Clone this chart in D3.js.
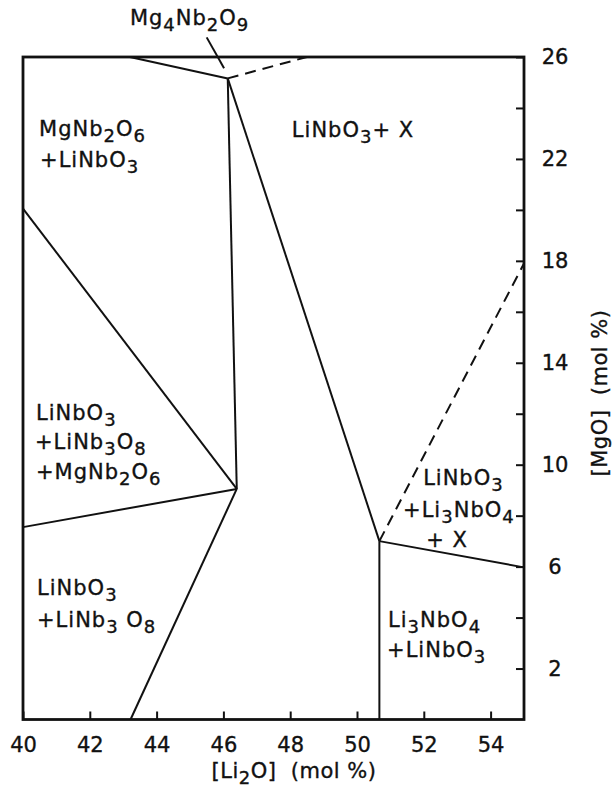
<!DOCTYPE html>
<html>
<head>
<meta charset="utf-8">
<script src="https://cdn.jsdelivr.net/npm/d3@7"></script>
<style>
  body { margin: 0; background: #fff; }
  text { font-family: "DejaVu Sans", sans-serif; fill: #111; stroke: #111; stroke-width: 0.35px; }
</style>
</head>
<body>
<div id="chart"></div>
<script>
// phase boundaries, [Li2O] mol% vs [MgO] mol%
var solidLines = [
  [[43.2, 26], [46.13, 25.16]],
  [[46.13, 25.16], [46.4, 9.05]],
  [[46.13, 25.16], [50.67, 7.0]],
  [[40, 20.05], [46.4, 9.05]],
  [[40, 7.55], [46.4, 9.05]],
  [[43.22, 0], [46.4, 9.05]],
  [[50.67, 7.0], [50.67, 0]],
  [[50.67, 7.0], [55, 5.97]]
];
var dashedLines = [
  [[46.13, 25.16], [48.5, 26]],
  [[50.67, 7.0], [55, 17.9]]
];
// pointer from the Mg4Nb2O9 label
var pointerLine = [[45.5, 26.77], [46.02, 25.56]];

var xTicks = [40, 42, 44, 46, 48, 50, 52, 54];
var yTicks = [2, 4, 6, 8, 10, 12, 14, 16, 18, 20, 22, 24, 26];
var yLabels = [2, 6, 10, 14, 18, 22, 26];

// region labels: text (_n = subscript), anchor in data units
var regionText = [
  "Mg_4Nb_2O_9",
  "MgNb_2O_6", "+LiNbO_3",
  "LiNbO_3+ X",
  "LiNbO_3", "+LiNb_3O_8", "+MgNb_2O_6",
  "LiNbO_3", "+LiNb_3 O_8",
  "LiNbO_3", "+Li_3NbO_4", "+ X",
  "Li_3NbO_4", "+LiNbO_3"
];
var regionX = [43.2, 40.48, 40.51, 48.05, 40.39, 40.36, 40.39, 40.42, 40.42, 51.98, 51.38, 52.07, 50.93, 50.9];
var regionY = [27.26, 22.9, 21.68, 22.86, 11.75, 10.62, 9.44, 4.89, 3.63, 9.2, 7.95, 6.77, 3.63, 2.45];

var svgWidth = 612;
var svgHeight = 790;
var frame = { left: 23, right: 524, top: 57, bottom: 719.5 };

var svg = d3.select("#chart")
  .append("svg")
  .attr("width", svgWidth)
  .attr("height", svgHeight);

var xScale = d3.scaleLinear().domain([40, 55]).range([frame.left, frame.right]);
var yScale = d3.scaleLinear().domain([0, 26]).range([frame.bottom, frame.top]);

// axes, ticks pointing inward
var xAxis = d3.axisBottom(xScale)
  .tickValues(xTicks)
  .tickSize(-8)
  .tickPadding(18)
  .tickFormat(d3.format("d"));

var yAxis = d3.axisRight(yScale)
  .tickValues(yTicks)
  .tickSize(-8)
  .tickFormat(d => yLabels.includes(d) ? d : "");

var gx = svg.append("g")
  .attr("transform", `translate(0, ${frame.bottom})`)
  .call(xAxis);
gx.select(".domain").remove();
gx.selectAll("line").attr("stroke", "#111").attr("stroke-width", 2);
gx.selectAll("text").attr("font-size", 21).attr("font-family", "DejaVu Sans");

var gy = svg.append("g")
  .attr("transform", `translate(${frame.right}, 0)`)
  .call(yAxis);
gy.select(".domain").remove();
gy.selectAll("line").attr("stroke", "#111").attr("stroke-width", 2);
gy.selectAll("text")
  .attr("font-size", 21)
  .attr("font-family", "DejaVu Sans")
  .attr("text-anchor", "middle")
  .attr("x", 31);

// frame
svg.append("rect")
  .attr("x", frame.left)
  .attr("y", frame.top)
  .attr("width", frame.right - frame.left)
  .attr("height", frame.bottom - frame.top)
  .attr("fill", "none")
  .attr("stroke", "#111")
  .attr("stroke-width", 2.8);

var line = d3.line()
  .x(d => xScale(d[0]))
  .y(d => yScale(d[1]));

svg.selectAll(".solid")
  .data(solidLines.concat([pointerLine]))
  .enter()
  .append("path")
  .attr("d", line)
  .attr("fill", "none")
  .attr("stroke", "#111")
  .attr("stroke-width", 2);

svg.selectAll(".dashed")
  .data(dashedLines)
  .enter()
  .append("path")
  .attr("d", line)
  .attr("fill", "none")
  .attr("stroke", "#111")
  .attr("stroke-width", 2)
  .attr("stroke-dasharray", "11,7");

// chemical formula with lowered subscripts
function formula(sel, str) {
  var parts = str.split(/_(\d)/);
  var shift = 0;
  parts.forEach(function(p, i) {
    if (p === "") return;
    var ts = sel.append("tspan").text(p);
    if (i % 2 === 1) {
      ts.attr("font-size", 18).attr("dy", 6 - shift);
      shift = 6;
    } else if (shift) {
      ts.attr("dy", -shift);
      shift = 0;
    }
  });
}

regionText.forEach(function(t, i) {
  var el = svg.append("text")
    .attr("x", xScale(regionX[i]))
    .attr("y", yScale(regionY[i]))
    .attr("font-size", 21)
    .attr("letter-spacing", 1)
    .attr("xml:space", "preserve");
  formula(el, t);
});

// axis titles
var xTitle = svg.append("text")
  .attr("x", 294)
  .attr("y", 778)
  .attr("text-anchor", "middle")
  .attr("font-size", 21)
  .attr("letter-spacing", 0.5);
formula(xTitle, "[Li_2O]\u00a0\u00a0(mol\u00a0%)");

svg.append("text")
  .attr("transform", "translate(607, 393) rotate(-90)")
  .attr("text-anchor", "middle")
  .attr("font-size", 21)
  .attr("letter-spacing", 0.5)
  .text("[MgO]\u00a0\u00a0(mol\u00a0%)");
</script>
</body>
</html>
